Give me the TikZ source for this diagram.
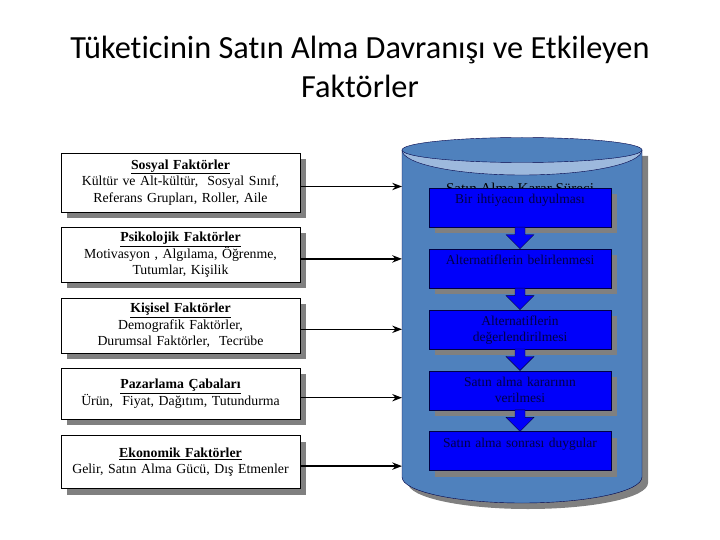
\documentclass[tikz,border=0pt]{standalone}
\usepackage{fontspec}
\setmainfont{Liberation Serif}
\newfontfamily\titlefont[Ligatures=NoCommon]{Carlito}
\usetikzlibrary{arrows.meta,positioning,shadows}
\pgfdeclarelayer{back}
\pgfsetlayers{back,main}
\definecolor{canblue}{HTML}{4F81BD}
\definecolor{canlight}{HTML}{9DB9DD}
\definecolor{navy}{RGB}{0,0,70}
\definecolor{stageblue}{RGB}{0,0,250}

\begin{document}
\begin{tikzpicture}[x=1pt, y=-1pt, >=Stealth, node distance=15pt,
  shade6/.style={drop shadow={shadow xshift=6pt, shadow yshift=-6pt, fill=gray, opacity=1}},
  factor/.style={draw, fill=white, shade6, align=center, text width=233pt, inner sep=3pt, font=\fontsize{13.8}{16.5}\selectfont},
  stage/.style={draw=navy, fill=stageblue, shade6, text=navy, align=center, text width=176pt, inner xsep=3pt, inner ysep=2pt, text height=14pt, text depth=21pt, font=\fontsize{13.5}{16}\selectfont},
  flow/.style={draw=navy, fill=stageblue}]
\useasboundingbox (0,0) rectangle (720,540);

\node[font=\titlefont\fontsize{32.3}{39}\selectfont, align=center] (title) at (360,67) {Tüketicinin Satın Alma Davranışı ve Etkileyen\\Faktörler};

% influencing factors
\node[factor, minimum height=59pt] (soc) at (180.5,182.5) {\underline{\textbf{Sosyal Faktörler}}\\Kültür ve Alt-kültür,~ Sosyal Sınıf,\\Referans Grupları, Roller, Aile};
\node[factor, minimum height=55pt, below=of soc] (psy) {\underline{\textbf{Psikolojik Faktörler}}\\Motivasyon , Algılama, Öğrenme,\\Tutumlar, Kişilik};
\node[factor, minimum height=55pt, below=of psy] (pers) {\underline{\textbf{Kişisel Faktörler}}\\Demografik Faktörler,\\Durumsal Faktörler,~ Tecrübe};
\node[factor, minimum height=51pt, below=of pers] (mkt) {\underline{\textbf{Pazarlama Çabaları}}\\Ürün,~ Fiyat, Dağıtım, Tutundurma};
\node[factor, minimum height=53pt, below=16pt of mkt] (eco) {\underline{\textbf{Ekonomik Faktörler}}\\Gelir, Satın Alma Gücü, Dış Etmenler};

% the can
\begin{pgfonlayer}{back}
\fill[gray] (408,156) -- (408,483) arc[start angle=180, end angle=0, x radius=120, y radius=26] -- (648,156) -- cycle;
\filldraw[fill=canblue, draw=navy] (402,150) -- (402,477) arc[start angle=180, end angle=0, x radius=120, y radius=26] -- (642,150) -- cycle;
\filldraw[fill=canlight, draw=navy] (402,150) arc[start angle=180, end angle=0, x radius=120, y radius=25] -- cycle;
\filldraw[fill=canblue, draw=navy] (522,150) ellipse[x radius=120, y radius=12.5];
\end{pgfonlayer}
\coordinate (canL) at (402,150);

\node[font=\fontsize{15}{18}\selectfont] (proc) at (520,188) {Satın Alma Karar Süreci};
\node[stage] (s1) at (520,207.5) {Bir ihtiyacın duyulması};
\node[stage, below=21.5pt of s1] (s2) {Alternatiflerin belirlenmesi};
\node[stage, below=21.5pt of s2] (s3) {Alternatiflerin\\değerlendirilmesi};
\node[stage, below=21.5pt of s3] (s4) {Satın alma kararının\\verilmesi};
\node[stage, below=21.5pt of s4] (s5) {Satın alma sonrası duygular};

\foreach \a/\b in {s1/s2,s2/s3,s3/s4,s4/s5}{
  \begin{pgfonlayer}{back}
  \fill[gray, xshift=6pt, yshift=-6pt] ([xshift=-5pt]\a.south) -- ([xshift=-5pt,yshift=14pt]\b.north) -- ([xshift=-14pt,yshift=14pt]\b.north) -- (\b.north) -- ([xshift=14pt,yshift=14pt]\b.north) -- ([xshift=5pt,yshift=14pt]\b.north) -- ([xshift=5pt]\a.south) -- cycle;
  \end{pgfonlayer}
  \path[flow] ([xshift=-5pt]\a.south) -- ([xshift=-5pt,yshift=14pt]\b.north) -- ([xshift=-14pt,yshift=14pt]\b.north) -- (\b.north) -- ([xshift=14pt,yshift=14pt]\b.north) -- ([xshift=5pt,yshift=14pt]\b.north) -- ([xshift=5pt]\a.south) -- cycle;
}

\foreach \f in {soc,psy,pers,mkt,eco}
  \draw[->, line width=1.5pt] ([yshift=-4pt]\f.east) -- ([yshift=-4pt]\f.east -| canL);
\end{tikzpicture}
\end{document}
